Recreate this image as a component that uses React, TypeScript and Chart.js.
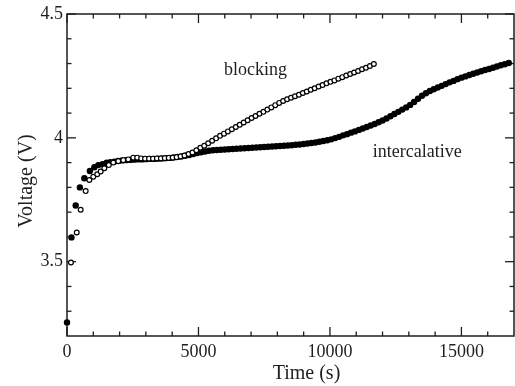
import React, { useEffect, useRef } from "react";
import { Chart, registerables } from "chart.js";

Chart.register(...registerables);

// ---- data ----
const blockingTime = [
  150, 370, 520, 710, 850, 1000, 1150, 1280, 1420, 1590, 1760, 1950, 2140, 2330, 2520,
  2670, 2820, 2970, 3120, 3270, 3420, 3570, 3720, 3870, 4020, 4170, 4320, 4470, 4620, 4770,
  4920, 5070, 5220, 5370, 5520, 5670, 5820, 5970, 6120, 6270, 6420, 6570, 6720, 6870, 7020,
  7170, 7320, 7470, 7620, 7770, 7920, 8070, 8220, 8370, 8520, 8670, 8820, 8970, 9120, 9270,
  9420, 9570, 9720, 9870, 10020, 10170, 10320, 10470, 10620, 10770, 10920, 11070, 11220, 11370,
  11520, 11670,
];
const blockingVoltage = [
  3.497, 3.618, 3.71, 3.785, 3.83, 3.843, 3.853, 3.864, 3.877, 3.89, 3.9, 3.906, 3.91, 3.913, 3.92,
  3.92, 3.917, 3.916, 3.916, 3.916, 3.917, 3.917, 3.918, 3.919, 3.92, 3.922, 3.925, 3.929, 3.935, 3.941,
  3.95, 3.96, 3.968, 3.978, 3.988, 3.998, 4.008, 4.017, 4.026, 4.035, 4.044, 4.053, 4.062, 4.071, 4.08,
  4.088, 4.097, 4.105, 4.114, 4.123, 4.132, 4.141, 4.149, 4.156, 4.162, 4.168, 4.174, 4.181, 4.187, 4.194,
  4.2, 4.207, 4.213, 4.22, 4.226, 4.232, 4.239, 4.245, 4.252, 4.258, 4.264, 4.27, 4.277, 4.283,
  4.29, 4.298,
];

const intercalativeTime = [
  0, 170, 330, 490, 660, 870, 1040, 1190, 1355, 1510,
  1650, 1800, 1950, 2100, 2250, 2400, 2550, 2700, 2850, 3000,
  3150, 3300, 3450, 3600, 3750, 3900, 4050, 4200, 4350, 4500,
  4650, 4800, 4950, 5100, 5250, 5400, 5550, 5700, 5850, 6000,
  6150, 6300, 6450, 6600, 6750, 6900, 7050, 7200, 7350, 7500,
  7650, 7800, 7950, 8100, 8250, 8400, 8550, 8700, 8850, 9000,
  9150, 9300, 9450, 9600, 9750, 9900, 10050, 10200, 10350, 10500,
  10650, 10800, 10950, 11100, 11250, 11400, 11550, 11700, 11850, 12000,
  12150, 12300, 12450, 12600, 12750, 12900, 13050, 13200, 13350, 13500,
  13650, 13800, 13950, 14100, 14250, 14400, 14550, 14700, 14850, 15000,
  15150, 15300, 15450, 15600, 15750, 15900, 16050, 16200, 16350, 16500,
  16650, 16800,
];
const intercalativeVoltage = [
  3.255, 3.598, 3.727, 3.8, 3.837, 3.866, 3.881, 3.89, 3.894, 3.9,
  3.902, 3.904, 3.907, 3.909, 3.91, 3.911, 3.912, 3.913, 3.913, 3.914,
  3.915, 3.915, 3.916, 3.917, 3.918, 3.919, 3.921, 3.923, 3.925, 3.928,
  3.931, 3.935, 3.939, 3.942, 3.945, 3.948, 3.95, 3.951, 3.952, 3.953,
  3.954, 3.955, 3.956, 3.957, 3.958, 3.959, 3.96, 3.961, 3.962, 3.963,
  3.964, 3.965, 3.966, 3.967, 3.968, 3.969, 3.97, 3.972, 3.973, 3.975,
  3.977, 3.979, 3.981, 3.984, 3.987, 3.99, 3.994, 3.999, 4.004, 4.01,
  4.015, 4.021, 4.026, 4.032, 4.038, 4.044, 4.05, 4.056, 4.063, 4.07,
  4.078, 4.087, 4.096, 4.105, 4.114, 4.123, 4.133, 4.145, 4.158, 4.17,
  4.18, 4.189, 4.196, 4.203, 4.21, 4.217, 4.224, 4.23, 4.237, 4.243,
  4.248, 4.254, 4.259, 4.264, 4.269, 4.274, 4.278, 4.283, 4.288, 4.293,
  4.297, 4.302,
];

const seriesLabels = ["blocking", "intercalative"];
const xTitle = "Time (s)";
const yTitle = "Voltage (V)";
const xRange = [0, 17000];
const yRange = [3.2, 4.5];
const xMajorTicks = [0, 5000, 10000, 15000];
const xMinorTicks = [1000, 2000, 3000, 4000, 6000, 7000, 8000, 9000, 11000, 12000, 13000, 14000, 16000];
const yMajorTicks = [3.5, 4, 4.5];
const yMinorTicks = [3.3, 3.4, 3.6, 3.7, 3.8, 3.9, 4.1, 4.2, 4.3, 4.4];
// annotation anchors in data coordinates
const blockingLabelAt = [5970, 4.255];
const intercalativeLabelAt = [11630, 3.924];

const FONT = '"Liberation Serif", "Times New Roman", serif';
const INK = "#1e1e1e";

const framePlugin = {
  id: "frameTicks",
  beforeDatasetsDraw(chart: any) {
    const { ctx, chartArea } = chart;
    const { left, right, top, bottom } = chartArea;
    const xs = chart.scales.x;
    const ys = chart.scales.y;
    ctx.save();
    ctx.strokeStyle = INK;
    ctx.lineWidth = 1.5;
    ctx.strokeRect(left, top, right - left, bottom - top);
    ctx.lineWidth = 1.3;
    const seg = (x1: number, y1: number, x2: number, y2: number) => {
      ctx.beginPath();
      ctx.moveTo(x1, y1);
      ctx.lineTo(x2, y2);
      ctx.stroke();
    };
    const xt = (vals: number[], len: number) =>
      vals.forEach((v) => {
        const p = xs.getPixelForValue(v);
        seg(p, bottom, p, bottom - len);
        seg(p, top, p, top + len);
      });
    const yt = (vals: number[], len: number) =>
      vals.forEach((v) => {
        const p = ys.getPixelForValue(v);
        seg(left, p, left + len, p);
        seg(right, p, right - len, p);
      });
    xt(xMajorTicks, 9);
    xt(xMinorTicks, 4.5);
    yt(yMajorTicks, 9);
    yt(yMinorTicks, 4.5);
    ctx.restore();
  },
  afterDraw(chart: any) {
    const { ctx } = chart;
    const xs = chart.scales.x;
    const ys = chart.scales.y;
    ctx.save();
    ctx.fillStyle = INK;
    ctx.font = `18px ${FONT}`;
    ctx.textAlign = "left";
    ctx.textBaseline = "alphabetic";
    ctx.fillText(seriesLabels[0], xs.getPixelForValue(blockingLabelAt[0]), ys.getPixelForValue(blockingLabelAt[1]));
    ctx.fillText(seriesLabels[1], xs.getPixelForValue(intercalativeLabelAt[0]), ys.getPixelForValue(intercalativeLabelAt[1]));
    ctx.font = `20px ${FONT}`;
    ctx.textAlign = "center";
    ctx.fillText(xTitle, 306.5, 378.5);
    ctx.translate(27, 181);
    ctx.rotate(-Math.PI / 2);
    ctx.textBaseline = "middle";
    ctx.fillText(yTitle, 0, 0);
    ctx.restore();
  },
};

export default function App() {
  const ref = useRef<HTMLCanvasElement | null>(null);
  useEffect(() => {
    if (!ref.current) return;
    const chart = new Chart(ref.current, {
      type: "scatter",
      data: {
        datasets: [
          {
            label: seriesLabels[0],
            data: blockingTime.map((t, i) => ({ x: t, y: blockingVoltage[i] })),
            pointStyle: "circle",
            pointRadius: 2.4,
            pointBorderWidth: 1.2,
            pointBorderColor: "#000",
            pointBackgroundColor: "#fff",
            showLine: false,
            clip: false,
            order: 0,
          },
          {
            label: seriesLabels[1],
            data: intercalativeTime.map((t, i) => ({ x: t, y: intercalativeVoltage[i] })),
            pointStyle: "circle",
            pointRadius: 3.2,
            pointBorderWidth: 0,
            pointBorderColor: "#000",
            pointBackgroundColor: "#000",
            showLine: false,
            clip: false,
            order: 1,
          },
        ],
      },
      options: {
        responsive: false,
        animation: false,
        devicePixelRatio: 1,
        events: [],
        layout: { autoPadding: false, padding: { top: 14, right: 1, left: 0, bottom: 0 } },
        plugins: { legend: { display: false }, tooltip: { enabled: false } },
        scales: {
          x: {
            type: "linear",
            position: "bottom",
            min: xRange[0],
            max: xRange[1],
            grid: { display: false, drawTicks: false },
            border: { display: false },
            afterBuildTicks: (s: any) => {
              s.ticks = xMajorTicks.map((v) => ({ value: v }));
            },
            afterFit: (s: any) => {
              s.height = 50;
              s.paddingLeft = 0;
              s.paddingRight = 0;
            },
            ticks: {
              padding: 5,
              color: INK,
              font: { family: FONT, size: 18 },
              maxRotation: 0,
              autoSkip: false,
              callback: (v: any) => String(v),
            },
          },
          y: {
            type: "linear",
            position: "left",
            min: yRange[0],
            max: yRange[1],
            grid: { display: false, drawTicks: false },
            border: { display: false },
            afterBuildTicks: (s: any) => {
              s.ticks = yMajorTicks.map((v) => ({ value: v }));
            },
            afterFit: (s: any) => {
              s.width = 67;
              s.paddingTop = 0;
              s.paddingBottom = 0;
            },
            ticks: {
              padding: 4,
              color: INK,
              font: { family: FONT, size: 18 },
              autoSkip: false,
              callback: (v: any) => String(v),
            },
          },
        },
      },
      plugins: [framePlugin],
    } as any);
    return () => chart.destroy();
  }, []);
  return (
    <div style={{ position: "absolute", left: 0, top: 0, width: 515, height: 386, background: "#fff" }}>
      <canvas ref={ref} width={515} height={386} style={{ display: "block" }} />
    </div>
  );
}
